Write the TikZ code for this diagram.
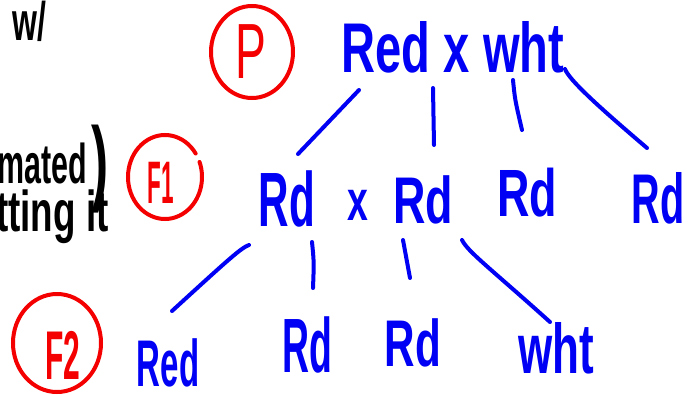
\documentclass[tikz,border=0pt]{standalone}
\usepackage{fontspec}
\setmainfont{Liberation Sans}
\definecolor{penblue}{RGB}{0,0,245}
\definecolor{penred}{RGB}{245,0,0}
\begin{document}
\begin{tikzpicture}[x=1pt,y=-1pt,
  hw/.style={inner sep=0pt, anchor=base, transform shape, font=\fontsize{44}{44}\selectfont\bfseries},
  bluetxt/.style={hw, text=penblue},
  redtxt/.style={hw, text=penred, font=\fontsize{30}{30}\selectfont\bfseries},
  blacktxt/.style={inner sep=0pt, anchor=base west, transform shape, font=\fontsize{32}{32}\selectfont\bfseries, text=black},
  stroke/.style={draw=penblue, line width=4pt, line cap=round, line join=round},
  ring/.style={draw=penred, line width=4pt, line cap=round}
]
\useasboundingbox[fill=white] (0,0) rectangle (691,394);

% black notes at left
\node[blacktxt, xscale=1.0, yscale=1.7] (note1) at (12,40) {w/};
\node[blacktxt, xscale=0.95, yscale=1.75] (note2) at (-3,183) {mated\,{\fontsize{54}{54}\selectfont\raisebox{-6pt}{)}}};
\node[blacktxt, xscale=1.15, yscale=1.8] (note3) at (-4,231) {tting it};

% generation labels
\coordinate (pc) at (252,52);
\coordinate (f1c) at (165,177);
\coordinate (f2c) at (57,343);
\draw[ring] (pc) ellipse [x radius=41pt, y radius=46pt];
\draw[ring] ([shift={(34:37pt and 42pt)}]f1c) arc[start angle=34, end angle=381, x radius=37pt, y radius=42pt];
\draw[ring] (f2c) ellipse [x radius=44pt, y radius=49pt];
\node[redtxt, xscale=1.05, yscale=1.78, font=\fontsize{44}{44}\selectfont] (plab) at (251,78) {P};
\node[redtxt, xscale=0.75, yscale=2.0] (f1lab) at (161,203) {F1};
\node[redtxt, xscale=1.0, yscale=2.3] (f2lab) at (63,379) {F2};

% parents
\node[bluetxt, xscale=1.07, yscale=1.6] (par) at (453,72) {Red x wht};

% F1 row
\node[bluetxt, xscale=0.96, yscale=1.75] (rd1) at (287,226) {Rd};
\node[bluetxt, xscale=0.85, yscale=1.3] (cross) at (358,220) {x};
\node[bluetxt, xscale=1.02, yscale=1.5] (rd2) at (423,223) {Rd};
\node[bluetxt, xscale=1.02, yscale=1.52] (rd3) at (527,216) {Rd};
\node[bluetxt, xscale=0.9, yscale=1.6] (rd4) at (658,223) {Rd};

% F2 row
\node[bluetxt, xscale=0.75, yscale=1.5] (red5) at (168,386) {Red};
\node[bluetxt, xscale=0.85, yscale=1.75] (rd6) at (307,372) {Rd};
\node[bluetxt, xscale=0.96, yscale=1.5] (rd7) at (413,366) {Rd};
\node[bluetxt, xscale=1.0, yscale=1.6] (wht8) at (556,373) {wht};

% connector ends
\coordinate (a1) at (359,90);  \coordinate (b1) at (298,154);
\coordinate (a2) at (433,88);  \coordinate (b2) at (434,145);
\coordinate (a3) at (513,80);  \coordinate (b3) at (522,130);
\coordinate (a4) at (565,69);  \coordinate (b4) at (647,148);
\coordinate (a5) at (249,245); \coordinate (b5) at (172,311);
\coordinate (a6) at (312,242); \coordinate (b6) at (313,288);
\coordinate (a7) at (403,240); \coordinate (b7) at (410,278);
\coordinate (a8) at (462,240); \coordinate (b8) at (550,322);

\draw[stroke] (a1) -- (b1);
\draw[stroke] (a2) -- (b2);
\draw[stroke] (a3) .. controls (515,100) .. (b3);
\draw[stroke] (a4) .. controls (569,80) and (600,108) .. (b4);
\draw[stroke] (a5) .. controls (241,248) and (230,258) .. (b5);
\draw[stroke] (a6) .. controls (314,262) .. (b6);
\draw[stroke] (a7) -- (b7);
\draw[stroke] (a8) .. controls (468,252) and (490,268) .. (b8);
\end{tikzpicture}
\end{document}
